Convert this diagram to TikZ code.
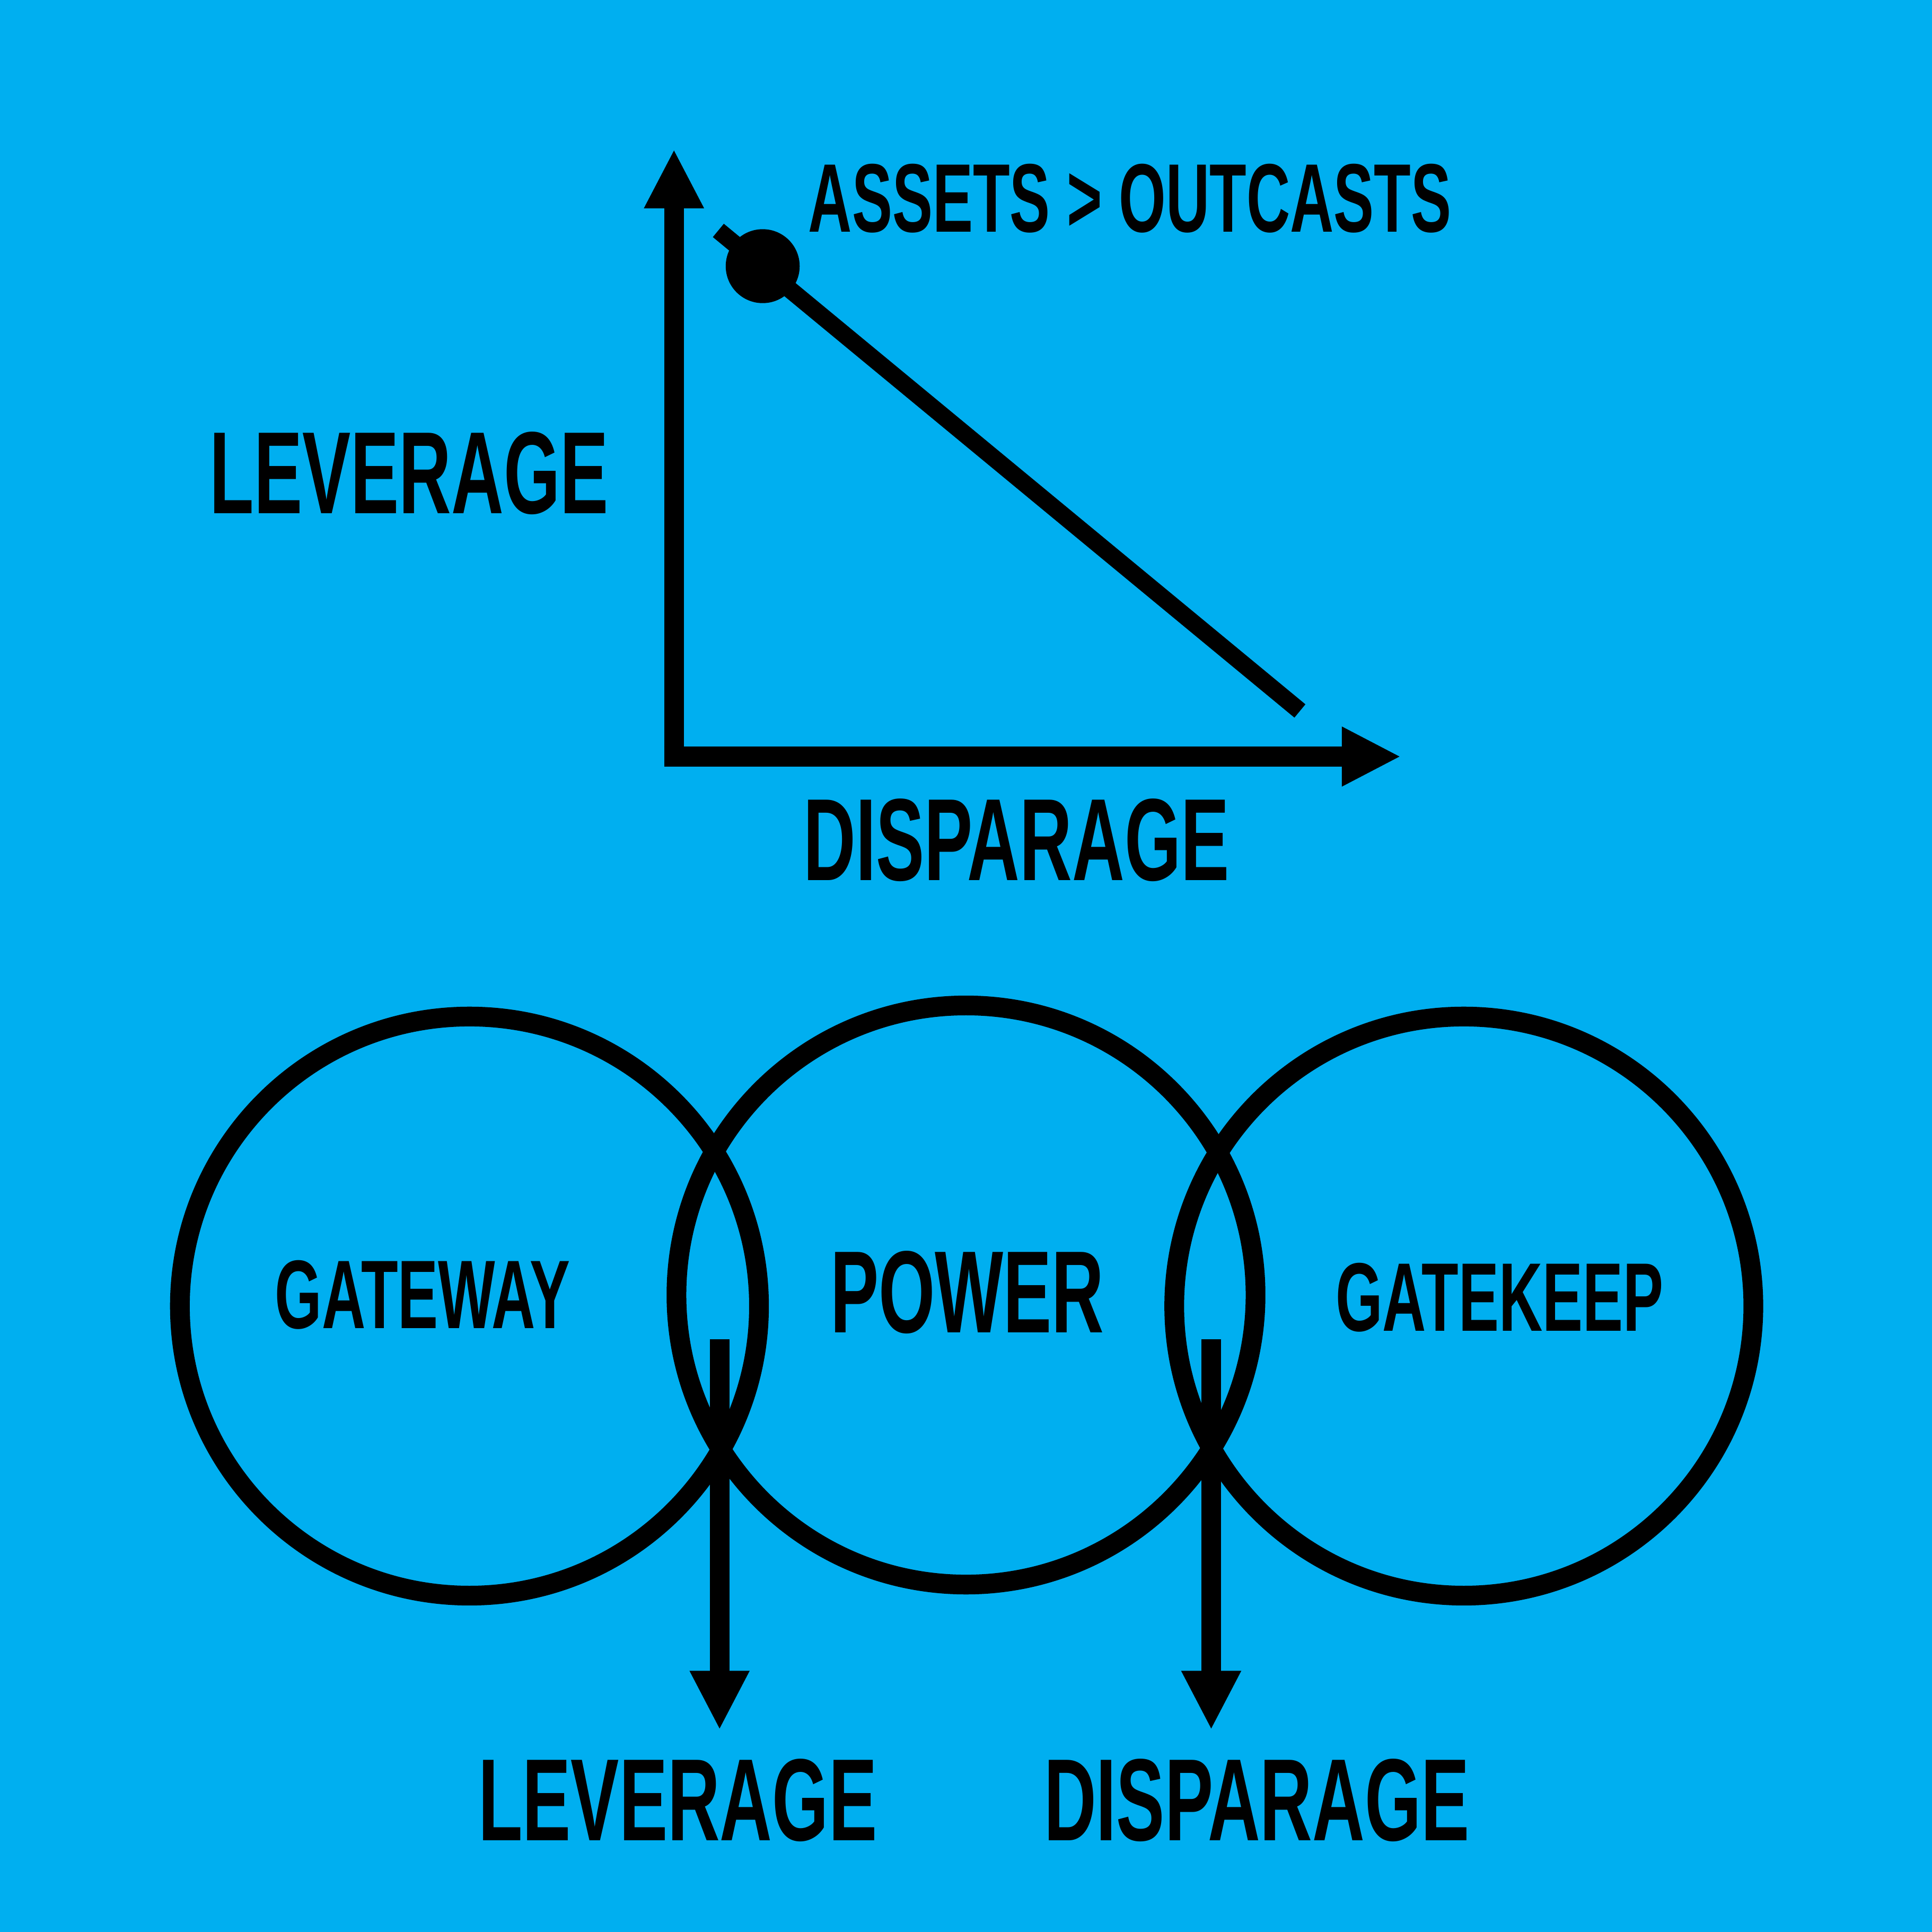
\documentclass[tikz,border=0pt]{standalone}
\usepackage{fontspec}
\setmainfont{Liberation Sans}[FakeStretch=0.62]
\usepackage{tikz}
\usetikzlibrary{arrows.meta, positioning}
\definecolor{sky}{RGB}{0,175,240}

\begin{document}
\begin{tikzpicture}[x=0.1mm, y=-0.1mm,
    big/.style={font=\bfseries\fontsize{27pt}{27pt}\selectfont, inner sep=0pt},
    small/.style={font=\bfseries\fontsize{22.5pt}{22.5pt}\selectfont, inner sep=0pt},
    stroke/.style={line width=1.6mm},
    tip/.style={-{Triangle[length=4.8mm, width=4.5mm]}}]
                        \fill[sky] (0, 0) rectangle (1568, 1568);
                        \useasboundingbox (0, 0) rectangle (1568, 1568);

                        \coordinate (origin) at (547, 614);
                        \coordinate (corner) at (539, 614);
                        \coordinate (ytip) at (547, 121);
                        \coordinate (xtip) at (1137, 614);
                        \coordinate (start) at (583, 187);
                        \coordinate (dot) at (619, 216);
                        \coordinate (end) at (1055, 577);

                        \node[small] (assets) at (917, 161) {ASSETS > OUTCASTS};
                        \node[big] (leverage) at (332, 384) {LEVERAGE};
                        \node[big] (disparage) at (825, 682) {DISPARAGE};

                        \draw[stroke]
                        (origin) edge[tip] (ytip)
                        (corner) edge[tip] (xtip);
                        \draw[line width=1.4mm] (start) -- (end);
                        \fill (dot) circle (30);

                        \coordinate (gateway) at (381, 1060);
                        \coordinate (power) at (784, 1051);
                        \coordinate (gatekeep) at (1188, 1060);
                        \draw[stroke] (gateway) circle (235);
                        \draw[stroke] (power) circle (235);
                        \draw[stroke] (gatekeep) circle (235);

                        \node[small] (gatewaytext) at (343, 1051) {GATEWAY};
                        \node[big] (powertext) at (785, 1049) {POWER};
                        \node[small] (gatekeeptext) at (1217, 1053) {GATEKEEP};

                        \coordinate (lefttop) at (584, 1087);
                        \coordinate (leftend) at (584, 1404);
                        \coordinate (righttop) at (983, 1087);
                        \coordinate (rightend) at (983, 1404);
                        \draw[stroke]
                        (lefttop) edge[tip] (leftend)
                        (righttop) edge[tip] (rightend);

                        \node[big] (leveragebottom) at (550, 1461) {LEVERAGE};
                        \node[big] (disparagebottom) at (1020, 1461) {DISPARAGE};
                    \end{tikzpicture}
\end{document}
